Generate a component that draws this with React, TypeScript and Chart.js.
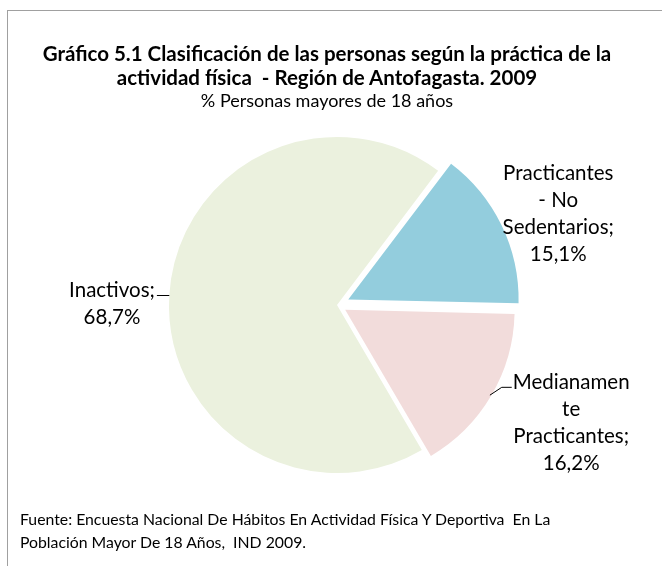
import React, { useEffect, useRef } from "react";
import { Chart, registerables } from "chart.js";

Chart.register(...registerables);

// ---- Data ----
const categories = ["Practicantes - No Sedentarios", "Medianamente Practicantes", "Inactivos"];
const values = [15.1, 16.2, 68.7];
const labelNameLines = [
  ["Practicantes", "- No", "Sedentarios;"],
  ["Medianamen", "te", "Practicantes;"],
  ["Inactivos;"],
];
const titleLines = [
  "Gráfico 5.1 Clasificación de las personas según la práctica de la",
  "actividad física  - Región de Antofagasta. 2009",
];
const subtitle = "% Personas mayores de 18 años";
const sourceLines = [
  "Fuente: Encuesta Nacional De Hábitos En Actividad Física Y Deportiva  En La",
  "Población Mayor De 18 Años,  IND 2009.",
];

// ---- Style ----
const SLICE_COLORS = ["#93CDDD", "#F2DCDB", "#EBF1DE"];
const SLICE_OFFSETS = [50, 38, 0]; // chart.js translates arcs by offset/4
const LABEL_POS = [
  [210, -86],
  [226, 113],
  [-225, -1],
];
const LEADER = [null, "left", "right"];
const FONT = "Lato, 'Open Sans', sans-serif";
const LABEL_FONT = `20.5px ${FONT}`;
const LABEL_LH = 27;

const fmt = (v: number) => `${v.toFixed(1).replace(".", ",")}%`;

const labelPlugin = {
  id: "sliceLabels",
  afterDatasetsDraw(chart: any) {
    const ctx = chart.ctx;
    const meta = chart.getDatasetMeta(0);
    meta.data.forEach((arc: any, i: number) => {
      const { x, y, startAngle, endAngle, outerRadius } = arc.getProps(
        ["x", "y", "startAngle", "endAngle", "outerRadius"],
        true
      );
      const mid = (startAngle + endAngle) / 2;
      const shift = (SLICE_OFFSETS[i] || 0) / 4;
      const cx = x + Math.cos(mid) * shift;
      const cy = y + Math.sin(mid) * shift;
      const [dx, dy] = LABEL_POS[i];
      const lx = cx + dx;
      const ly = cy + dy;
      const lines = [...labelNameLines[i], fmt(values[i])];
      ctx.save();
      ctx.font = LABEL_FONT;
      ctx.fillStyle = "#000";
      ctx.textAlign = "center";
      ctx.textBaseline = "middle";
      const top = ly - ((lines.length - 1) * LABEL_LH) / 2;
      lines.forEach((t, k) => ctx.fillText(t, lx, top + k * LABEL_LH));
      const w = ctx.measureText(lines[0]).width;
      const sx = cx + Math.cos(mid) * outerRadius;
      const sy = cy + Math.sin(mid) * outerRadius;
      ctx.strokeStyle = "#000";
      ctx.lineWidth = 1;
      if (LEADER[i] === "left") {
        const ex = lx - w / 2 - 1;
        const ey = top + 5;
        ctx.beginPath();
        ctx.moveTo(sx, sy);
        ctx.lineTo(ex - 10, ey);
        ctx.lineTo(ex, ey);
        ctx.stroke();
      } else if (LEADER[i] === "right") {
        const ex = lx + w / 2 + 2;
        ctx.beginPath();
        ctx.moveTo(sx, Math.round(sy) + 0.5);
        ctx.lineTo(ex, Math.round(sy) + 0.5);
        ctx.stroke();
      }
      ctx.restore();
    });
  },
};

export default function App() {
  const ref = useRef<HTMLCanvasElement>(null);
  useEffect(() => {
    if (!ref.current) return;
    const chart = new Chart(ref.current, {
      type: "pie",
      data: {
        labels: categories,
        datasets: [
          {
            data: values,
            backgroundColor: SLICE_COLORS,
            borderWidth: 0,
            offset: SLICE_OFFSETS,
          },
        ],
      },
      options: {
        responsive: false,
        maintainAspectRatio: false,
        animation: false,
        events: [],
        rotation: 37,
        radius: 168,
        layout: { padding: { left: 12, right: 0, top: 44, bottom: 0 } },
        plugins: {
          legend: { display: false },
          tooltip: { enabled: false },
          title: { display: false },
        },
      } as any,
      plugins: [labelPlugin],
    });
    return () => chart.destroy();
  }, []);

  return (
    <div
      style={{
        position: "fixed",
        left: 0,
        top: 0,
        width: 662,
        height: 566,
        overflow: "hidden",
        background: "#fff",
        fontFamily: FONT,
        color: "#000",
      }}
    >
      <div
        style={{
          position: "absolute",
          left: 7,
          top: 10,
          width: 720,
          height: 620,
          border: "1px solid #A0A0A0",
        }}
      />
      <canvas
        ref={ref}
        width={662}
        height={566}
        style={{ position: "absolute", left: 0, top: 0, width: 662, height: 566 }}
      />
      <div
        style={{
          position: "absolute",
          left: 0,
          top: 42,
          width: 654,
          textAlign: "center",
          fontWeight: 700,
          fontSize: 20.5,
          lineHeight: "23.5px",
          whiteSpace: "pre",
        }}
      >
        {titleLines.map((t, i) => (
          <div key={i}>{t}</div>
        ))}
        <div style={{ fontWeight: 400, fontSize: 18 }}>{subtitle}</div>
      </div>
      <div
        style={{
          position: "absolute",
          left: 20,
          top: 507,
          fontSize: 15.8,
          lineHeight: "23px",
          whiteSpace: "pre",
        }}
      >
        {sourceLines.map((t, i) => (
          <div key={i}>{t}</div>
        ))}
      </div>
    </div>
  );
}
